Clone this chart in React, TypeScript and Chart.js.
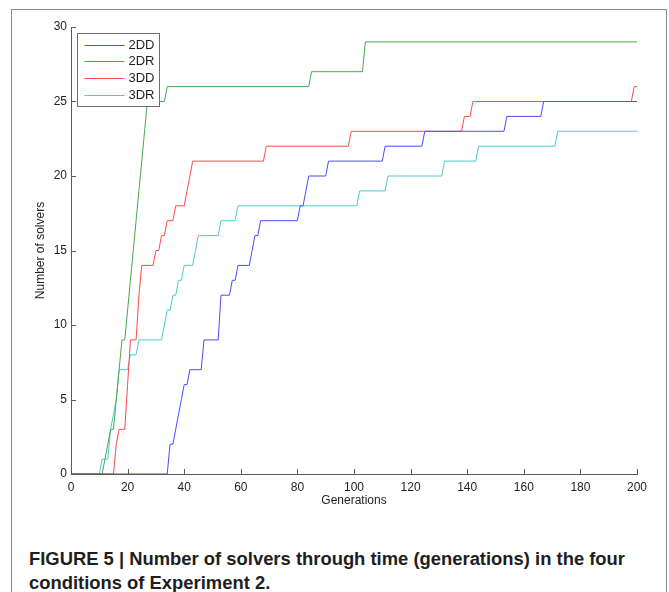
import React, { useEffect, useLayoutEffect, useRef } from "react";
import { Chart, registerables } from "chart.js";

Chart.register(...registerables);

// ---- data (generation at which the count changes, and the count) ----
const seriesLabels = ["2DD", "2DR", "3DD", "3DR"];
const seriesColors = ["#4a4aff", "#4aa84a", "#ff4a4a", "#4acccc"];

const gens2DD = [0, 34, 35, 36, 37, 38, 39, 40, 41, 42, 46, 47, 52, 53, 56, 57, 58, 59, 63, 64, 65, 66, 67, 80, 81, 82, 83, 84, 90, 91, 110, 111, 124, 125, 153, 154, 166, 167, 200];
const vals2DD = [0, 0, 2, 2, 3, 4, 5, 6, 6, 7, 7, 9, 9, 12, 12, 13, 13, 14, 14, 15, 16, 16, 17, 17, 18, 18, 19, 20, 20, 21, 21, 22, 22, 23, 23, 24, 24, 25, 25];

const gens2DR = [0, 11, 12, 13, 14, 15, 16, 17, 18, 19, 20, 21, 22, 23, 24, 25, 26, 27, 33, 34, 84, 85, 103, 104, 200];
const vals2DR = [0, 0, 1, 2, 3, 3, 5, 7, 9, 9, 11, 13, 15, 17, 19, 21, 23, 25, 25, 26, 26, 27, 27, 29, 29];

const gens3DD = [0, 15, 16, 17, 19, 20, 21, 23, 24, 25, 29, 30, 31, 32, 33, 34, 36, 37, 40, 41, 42, 43, 68, 69, 98, 99, 138, 139, 141, 142, 198, 199, 200];
const vals3DD = [0, 0, 2, 3, 3, 6, 9, 9, 12, 14, 14, 15, 15, 16, 16, 17, 17, 18, 18, 19, 20, 21, 21, 22, 22, 23, 23, 24, 24, 25, 25, 26, 26];

const gens3DR = [0, 10, 11, 13, 14, 15, 16, 17, 20, 21, 23, 24, 32, 33, 34, 35, 36, 37, 38, 39, 40, 43, 44, 45, 52, 53, 58, 59, 101, 102, 111, 112, 131, 132, 143, 144, 171, 172, 200];
const vals3DR = [0, 0, 1, 1, 3, 4, 5, 7, 7, 8, 8, 9, 9, 10, 11, 11, 12, 12, 13, 13, 14, 14, 15, 16, 16, 17, 17, 18, 18, 19, 19, 20, 20, 21, 21, 22, 22, 23, 23];

const seriesGens = [gens2DD, gens2DR, gens3DD, gens3DR];
const seriesVals = [vals2DD, vals2DR, vals3DD, vals3DR];

const xMin = 0;
const xMax = 200;
const xStep = 20;
const yMin = 0;
const yMax = 30;
const yStep = 5;

const xTitle = "Generations";
const yTitle = "Number of solvers";
const captionLine1 = "FIGURE 5 | Number of solvers through time (generations) in the four";
const captionLine2 = "conditions of Experiment 2.";

const FONT = "'Liberation Sans', Arial, Helvetica, sans-serif";
const AXIS_COLOR = "#5a5a5a";
const TEXT_COLOR = "#1e1e1e";

const inwardTicks = {
  id: "inwardTicks",
  afterDraw(chart: any) {
    const { ctx, chartArea, scales } = chart;
    ctx.save();
    ctx.strokeStyle = AXIS_COLOR;
    ctx.lineWidth = 1;
    ctx.beginPath();
    scales.x.ticks.forEach((t: any) => {
      const px = Math.round(scales.x.getPixelForValue(t.value)) + 0.5;
      ctx.moveTo(px, chartArea.bottom);
      ctx.lineTo(px, chartArea.bottom - 5);
    });
    scales.y.ticks.forEach((t: any) => {
      const py = Math.round(scales.y.getPixelForValue(t.value)) + 0.5;
      ctx.moveTo(chartArea.left, py);
      ctx.lineTo(chartArea.left + 5, py);
    });
    ctx.stroke();
    ctx.restore();
  },
};

const boxLegend = {
  id: "boxLegend",
  afterDraw(chart: any) {
    const { ctx, chartArea } = chart;
    const x0 = Math.round(chartArea.left) + 6.5;
    const y0 = Math.round(chartArea.top) + 6.5;
    const w = 82;
    const h = 73;
    ctx.save();
    ctx.fillStyle = "#ffffff";
    ctx.fillRect(x0, y0, w, h);
    ctx.strokeStyle = "#6e6e6e";
    ctx.lineWidth = 1;
    ctx.strokeRect(x0, y0, w, h);
    ctx.font = `13px ${FONT}`;
    ctx.textBaseline = "middle";
    ctx.textAlign = "left";
    chart.data.datasets.forEach((ds: any, i: number) => {
      const cy = y0 + 11 + i * 16.8;
      ctx.strokeStyle = ds.borderColor;
      ctx.lineWidth = 1;
      ctx.beginPath();
      ctx.moveTo(x0 + 7, Math.round(cy) + 0.5);
      ctx.lineTo(x0 + 47, Math.round(cy) + 0.5);
      ctx.stroke();
      ctx.fillStyle = TEXT_COLOR;
      ctx.fillText(ds.label, x0 + 51, cy + 0.5);
    });
    ctx.restore();
  },
};

function Caption() {
  const r1 = useRef<HTMLSpanElement>(null);
  const r2 = useRef<HTMLSpanElement>(null);
  useLayoutEffect(() => {
    if (!r1.current || !r2.current) return;
    const w = r1.current.getBoundingClientRect().width;
    const k = 596 / w;
    [r1.current, r2.current].forEach((el) => {
      el.style.transform = `scaleX(${k})`;
    });
  }, []);
  const lineStyle: React.CSSProperties = {
    display: "inline-block",
    whiteSpace: "nowrap",
    transformOrigin: "left center",
  };
  return (
    <div
      style={{
        position: "absolute",
        left: 29,
        top: 547,
        font: `bold 18px ${FONT}`,
        lineHeight: "24px",
        color: TEXT_COLOR,
      }}
    >
      <div>
        <span ref={r1} style={lineStyle}>{captionLine1}</span>
      </div>
      <div>
        <span ref={r2} style={lineStyle}>{captionLine2}</span>
      </div>
    </div>
  );
}

export default function App() {
  const canvasRef = useRef<HTMLCanvasElement>(null);

  useEffect(() => {
    if (!canvasRef.current) return;
    const datasets = seriesLabels.map((label, i) => ({
      label,
      data: seriesGens[i].map((g, j) => ({ x: g, y: seriesVals[i][j] })),
      borderColor: seriesColors[i],
      backgroundColor: seriesColors[i],
      borderWidth: 1,
      pointRadius: 0,
      tension: 0,
      fill: false,
    }));
    const tickFont = { family: FONT, size: 12 };
    const chart = new Chart(canvasRef.current, {
      type: "line",
      data: { datasets },
      options: {
        responsive: false,
        animation: false,
        devicePixelRatio: 1,
        layout: { padding: { left: 29, top: 27, right: 32, bottom: 0 } },
        plugins: {
          legend: { display: false },
          tooltip: { enabled: false },
        },
        scales: {
          x: {
            type: "linear",
            min: xMin,
            max: xMax,
            afterFit: (s: any) => {
              s.height = 38;
            },
            ticks: {
              stepSize: xStep,
              font: tickFont,
              color: TEXT_COLOR,
              padding: 6,
              maxRotation: 0,
              autoSkip: false,
            },
            grid: { display: false, drawTicks: false },
            border: { display: true, color: AXIS_COLOR, width: 1 },
            title: {
              display: true,
              text: xTitle,
              font: tickFont,
              color: TEXT_COLOR,
              padding: { top: 0, bottom: 4 },
            },
          },
          y: {
            type: "linear",
            min: yMin,
            max: yMax,
            afterFit: (s: any) => {
              s.width = 42;
            },
            ticks: {
              stepSize: yStep,
              font: tickFont,
              color: TEXT_COLOR,
              padding: 4,
            },
            grid: { display: false, drawTicks: false },
            border: { display: true, color: AXIS_COLOR, width: 1 },
            title: {
              display: true,
              text: yTitle,
              font: tickFont,
              color: TEXT_COLOR,
              padding: { top: 4, bottom: 0 },
            },
          },
        },
      } as any,
      plugins: [inwardTicks, boxLegend],
    });
    return () => chart.destroy();
  }, []);

  return (
    <div
      style={{
        position: "fixed",
        left: 0,
        top: 0,
        width: 669,
        height: 592,
        overflow: "hidden",
        background: "#ffffff",
      }}
    >
      <div
        style={{
          position: "absolute",
          left: 11,
          top: 9,
          width: 654,
          height: 600,
          border: "1px solid #8c8c8c",
          borderBottom: "none",
        }}
      />
      <canvas
        ref={canvasRef}
        width={669}
        height={512}
        style={{ position: "absolute", left: 0, top: 0, width: 669, height: 512, display: "block" }}
      />
      <Caption />
    </div>
  );
}
